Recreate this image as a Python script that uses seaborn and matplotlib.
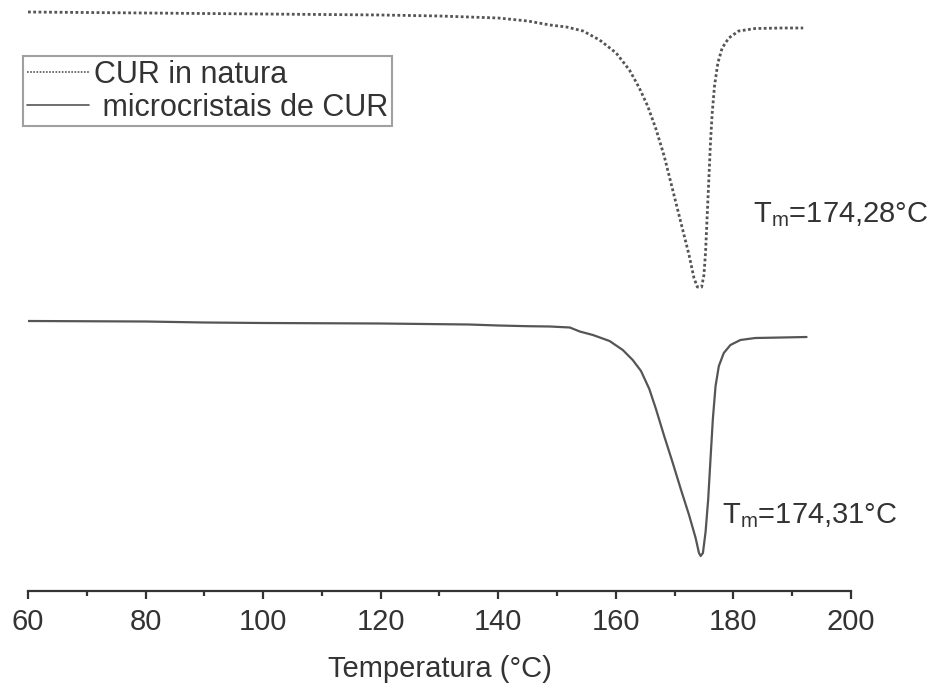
import matplotlib
matplotlib.use("Agg")
import matplotlib.pyplot as plt
from matplotlib.ticker import MultipleLocator
import seaborn as sns
import pandas as pd

# CUR in natura (dotted)
temp_nat = [60, 70, 80, 100, 120, 130, 140, 145, 148.79, 151.61, 154.42, 157.24, 160.05, 162.31,
            163.99, 165.41, 166.82, 168.22, 169.63, 171.04, 172.45, 173.29, 173.86, 174.59,
            174.98, 175.26, 175.54, 175.82, 176.10, 176.39, 176.78, 177.35, 178.08, 179.21,
            180.89, 183.71, 188.22, 191.87]
heat_nat = [5.79, 5.785, 5.78, 5.77, 5.76, 5.75, 5.73, 5.70, 5.66, 5.64, 5.60, 5.51, 5.38, 5.21,
            5.03, 4.85, 4.62, 4.35, 4.02, 3.69, 3.36, 3.13, 3.04, 3.04,
            3.16, 3.39, 3.76, 4.12, 4.49, 4.78, 5.05, 5.28, 5.43, 5.53,
            5.60, 5.625, 5.63, 5.63]

# microcristais de CUR (solid)
temp_mc = [60, 80, 90, 100, 120, 135, 140, 145, 148.79, 152.17, 153.86, 156.10, 158.93, 161.18,
           162.87, 164.28, 165.69, 166.82, 168.22, 169.63, 171.04, 172.45, 173.57, 174.14,
           174.42, 174.81, 175.26, 175.71, 176.10, 176.50, 176.96, 177.52, 178.36, 179.49,
           181.18, 183.71, 188.22, 192.44]
heat_mc = [2.70, 2.695, 2.685, 2.68, 2.675, 2.665, 2.655, 2.648, 2.645, 2.635, 2.595, 2.56, 2.50, 2.41,
           2.31, 2.20, 2.02, 1.82, 1.55, 1.29, 1.02, 0.76, 0.53, 0.38,
           0.35, 0.38, 0.59, 0.92, 1.32, 1.72, 2.05, 2.25, 2.38, 2.46,
           2.51, 2.53, 2.535, 2.54]

labels = ["CUR in natura", " microcristais de CUR"]
annotations = [(183.3, 3.69, r"T$_\mathregular{m}$=174,28°C"),
               (178.05, 0.68, r"T$_\mathregular{m}$=174,31°C")]
xticks = [60, 80, 100, 120, 140, 160, 180, 200]

sns.set_style("white")
plt.rcParams["font.family"] = ["Liberation Sans", "DejaVu Sans"]
plt.rcParams["mathtext.default"] = "regular"

W, H = 934, 696
fig = plt.figure(figsize=(W / 100, H / 100), dpi=100)
ax = fig.add_axes([28 / W, (H - 591) / H, (851 - 28) / W, 591 / H])

line_col = "#555555"
df_nat = pd.DataFrame({"T": temp_nat, "Q": heat_nat})
df_mc = pd.DataFrame({"T": temp_mc, "Q": heat_mc})
sns.lineplot(data=df_nat, x="T", y="Q", ax=ax, color=line_col, lw=2.0,
             linestyle=(0, (1.0, 0.9)), estimator=None, sort=False, label=labels[0])
sns.lineplot(data=df_mc, x="T", y="Q", ax=ax, color=line_col, lw=1.6,
             estimator=None, sort=False, label=labels[1])

ax.set_xlim(60, 200)
ax.set_ylim(0, 5.91)
for s in ["top", "right", "left"]:
    ax.spines[s].set_visible(False)
ax.spines["bottom"].set_color("#333333")
ax.spines["bottom"].set_linewidth(1.6)
ax.set_yticks([])
ax.set_xticks(xticks)
ax.xaxis.set_minor_locator(MultipleLocator(10))
ax.tick_params(axis="x", which="major", direction="out", length=6, width=1.6,
               color="#333333", labelsize=21, labelcolor="#333333", pad=6, bottom=True)
ax.tick_params(axis="x", which="minor", direction="out", length=3.5, width=1.6,
               color="#333333", bottom=True)
ax.set_xlabel("Temperatura (°C)", fontsize=21, color="#333333", labelpad=14)
ax.set_ylabel("")

for x, y, t in annotations:
    ax.text(x, y, t, fontsize=21, color="#333333", ha="left", va="baseline")

leg = ax.legend(loc="upper left", bbox_to_anchor=(23 / W, 1 - 56 / H),
                bbox_transform=fig.transFigure, frameon=True, fancybox=False,
                fontsize=22, handlelength=2.05, handletextpad=0.15, labelspacing=0.1,
                borderpad=0.12, borderaxespad=0)
leg.get_frame().set_edgecolor("#888888")
leg.get_frame().set_linewidth(1.5)
for t in leg.get_texts():
    t.set_color("#333333")
for h in leg.get_lines():
    h.set_linewidth(1.2)

fig.savefig("out.png", dpi=100)
